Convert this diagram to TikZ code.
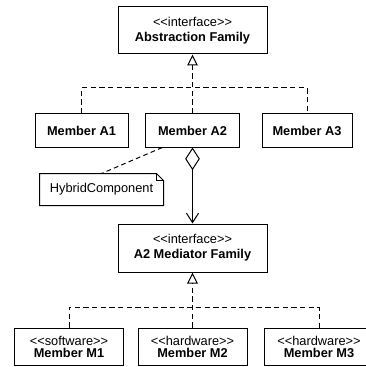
\documentclass[tikz,border=0pt]{standalone}
\usepackage{fontspec}
\setmainfont{Liberation Sans}
\usetikzlibrary{arrows.meta}
\newcommand{\stereo}[1]{<\kern0pt<#1>\kern0pt>}

\begin{document}
\begin{tikzpicture}[x=0.75pt,y=-0.75pt,line width=0.75pt,
  box/.style={draw,inner sep=0pt,align=center,font=\fontsize{9.6}{11.25}\selectfont},
  leaf/.style={box,font=\fontsize{9.6}{9}\selectfont,minimum width=81.75pt,minimum height=27.75pt},
  real/.style={dash pattern=on 4pt off 2.5pt},
  gen/.style={-{Triangle[open,length=8.25pt,width=8pt]}}]
\useasboundingbox (0,0) rectangle (366,367);
% abstraction family
\node[box,minimum width=111.75pt,minimum height=35.25pt] (abs) at (192.5,30.5) {\stereo{interface}\\\textbf{Abstraction Family}};
\node[box,minimum width=69.75pt,minimum height=24.75pt] (A1) at (81.5,130.5) {\textbf{Member A1}};
\node[box,minimum width=70.5pt,minimum height=24.75pt] (A2) at (192.5,130.5) {\textbf{Member A2}};
\node[box,minimum width=67.5pt,minimum height=24.75pt] (A3) at (307,130.5) {\textbf{Member A3}};
\coordinate (absfork) at (192.5,88);
\draw[real] (A1.north) |- (absfork) -| (A3.north);
\draw[real,gen] (A2.north) -- (abs.south);
% note
\node[inner sep=0pt,minimum width=92.25pt,minimum height=23.25pt,font=\fontsize{9.6}{11}\selectfont] (note) at (101.5,189.5) {HybridComponent};
\draw (note.north west) -- ([xshift=-5.25pt]note.north east) -- ([yshift=-5.25pt]note.north east) -- (note.south east) -- (note.south west) -- cycle;
\draw ([xshift=-5.25pt]note.north east) |- ([yshift=-5.25pt]note.north east);
\draw[dash pattern=on 3.5pt off 2.5pt] ([xshift=13pt]A2.south west) -- (note.north);
% mediator family
\node[box,minimum width=111.75pt,minimum height=36pt] (med) at (192.5,248) {\stereo{interface}\\\textbf{A2 Mediator Family}};
\draw[{Diamond[open,length=17pt,width=11pt]}-{Straight Barb[length=7pt,width=9pt]}] (A2.south) -- (med.north);
\node[leaf] (M1) at (69,346.5) {\stereo{software}\\\textbf{Member M1}};
\node[leaf] (M2) at (192.5,346.5) {\stereo{hardware}\\\textbf{Member M2}};
\node[leaf] (M3) at (319,346.5) {\stereo{hardware}\\\textbf{Member M3}};
\coordinate (medfork) at (192.5,307);
\draw[real] (M1.north) |- (medfork) -| (M3.north);
\draw[real,gen] (M2.north) -- (med.south);
\end{tikzpicture}
\end{document}
